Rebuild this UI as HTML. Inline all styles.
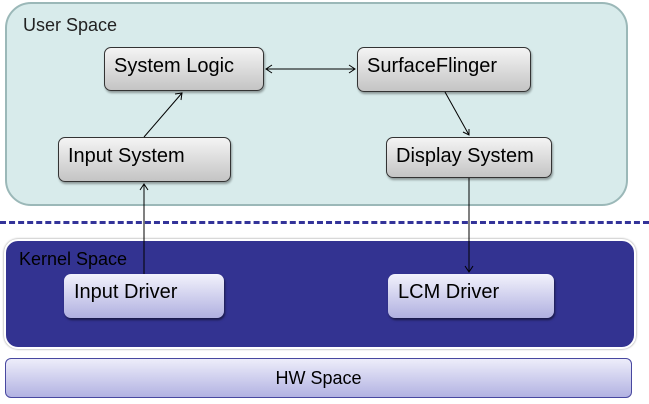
<!DOCTYPE html>
<html><head><style>
body{margin:0;width:649px;height:404px;background:#fff;position:relative;overflow:hidden;font-family:"Liberation Sans",sans-serif}
.a{position:absolute;box-sizing:border-box}
.n{border:1px solid #333;border-radius:7px;background:linear-gradient(#f4f4f4,#c4c4c4);font-size:20px;line-height:22px;color:#000;padding:7px 0 0 9px;box-shadow:1px 2px 2px rgba(0,0,0,.35)}
.k{border-radius:7px;background:linear-gradient(#f2f2fc,#b0b0e0);font-size:20px;line-height:22px;padding:7px 0 0 10px;box-shadow:1px 2px 2px rgba(0,0,0,.5)}
</style></head><body>
<div class="a" style="left:5px;top:2px;width:623px;height:204px;border:2px solid #9bb8b8;border-radius:26px;background:#d8ebeb"></div>
<div class="a" style="left:23px;top:15px;font-size:18px;color:#222">User Space</div>
<div class="a" style="left:0;top:221px;width:649px;border-top:3px dashed #333399"></div>
<div class="a" style="left:4px;top:239px;width:632px;height:110px;border:2px solid #fff;border-radius:14px;background:#333391;box-shadow:0 0 2px #888"></div>
<div class="a" style="left:19px;top:249px;font-size:18px;color:#000">Kernel Space</div>
<div class="a" style="left:5px;top:358px;width:627px;height:40px;border:1px solid #4848a0;border-radius:6px;background:linear-gradient(#ededfa,#b2b2e2);font-size:18px;text-align:center;line-height:38px">HW Space</div>
<div class="a n" style="left:104px;top:47px;width:160px;height:44px">System Logic</div>
<div class="a n" style="left:58px;top:137px;width:173px;height:45px">Input System</div>
<div class="a n" style="left:357px;top:47px;width:174px;height:45px">SurfaceFlinger</div>
<div class="a n" style="left:386px;top:137px;width:166px;height:41px;padding-top:7px">Display System</div>
<div class="a k" style="left:64px;top:274px;width:160px;height:44px">Input Driver</div>
<div class="a k" style="left:388px;top:274px;width:166px;height:44px">LCM Driver</div>
<svg class="a" style="left:0;top:0" width="649" height="404">
<g stroke="#000" stroke-width="1" fill="none">
<line x1="144" y1="274" x2="144" y2="184"/><polyline points="140,190 144,184 148,190"/>
<line x1="144" y1="137" x2="182" y2="93"/><polyline points="175,94 182,93 181,100"/>
<line x1="266" y1="69" x2="355" y2="69"/><polyline points="272,65 266,69 272,73"/><polyline points="349,65 355,69 349,73"/>
<line x1="445" y1="92" x2="469" y2="135"/><polyline points="463,132 469,135 469,129"/>
<line x1="469" y1="178" x2="469" y2="272"/><polyline points="465,266 469,272 473,266"/>
</g></svg>
</body></html>
